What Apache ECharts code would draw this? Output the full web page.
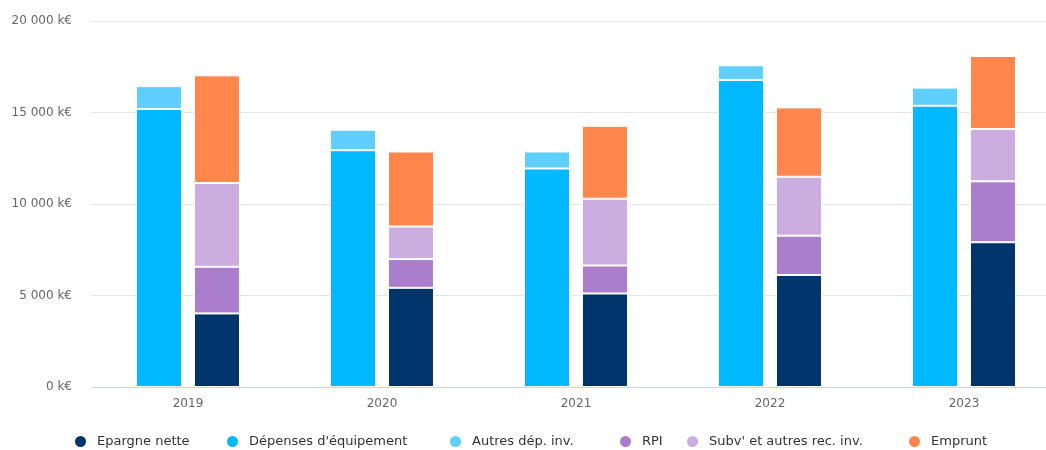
<!DOCTYPE html>
<html>
<head>
<meta charset="utf-8">
<script src="https://cdn.jsdelivr.net/npm/echarts@6/dist/echarts.min.js"></script>
<style>html,body{margin:0;padding:0;background:#fff;overflow:hidden}#c{width:1061px;height:450px}</style>
</head>
<body>
<div id="c"></div>
<script>
const years = ['2019', '2020', '2021', '2022', '2023'];
const epargneNette = [4020, 5420, 5110, 6120, 7910];
const depensesEquipement = [15190, 12940, 11940, 16780, 15370];
const autresDepInv = [1250, 1120, 930, 800, 990];
const rpi = [2550, 1570, 1530, 2150, 3330];
const subvAutres = [4580, 1780, 3650, 3220, 2860];
const emprunt = [5880, 4100, 3980, 3790, 3990];
const yTicks = [0, 5000, 10000, 15000, 20000];

const names = {
  ep: 'Epargne nette', dep: "Dépenses d'équipement", aut: 'Autres dép. inv.',
  rpi: 'RPI', subv: "Subv' et autres rec. inv.", emp: 'Emprunt'
};
const legendOrder = [names.ep, names.dep, names.aut, names.rpi, names.subv, names.emp];
const legendLeft = [73, 225, 448, 618, 685, 907];
const font = 'DejaVu Sans';
function fmt(v){ return String(v).replace(/\B(?=(\d{3})+(?!\d))/g, ' ') + ' k€'; }
function bar(name, data, stack, color){
  return { name, type:'bar', stack, data, barWidth:46, barGap:'26%',
    itemStyle:{ color, borderColor:'#ffffff', borderWidth:1 } };
}
const legends = legendOrder.map((n, i) => ({
  data:[n], left:legendLeft[i], top:434, padding:0, icon:'circle',
  itemWidth:13, itemHeight:13,
  textStyle:{ fontFamily:font, fontSize:13, color:'#333333', padding:[0,0,0,5] }
}));
const chart = echarts.init(document.getElementById('c'), null, {renderer:'canvas'});
chart.setOption({
  animation:false,
  grid:{ left:91, top:21, right:0, bottom:63, containLabel:false },
  legend: legends,
  xAxis:{ type:'category', data:years,
    axisLine:{ lineStyle:{ color:'#ccd6eb' } }, axisTick:{ show:false },
    axisLabel:{ color:'#666666', fontFamily:font, fontSize:12, margin:11 } },
  yAxis:{ type:'value', min:yTicks[0], max:yTicks[yTicks.length-1], interval:5000,
    axisLine:{ show:false }, axisTick:{ show:false },
    splitLine:{ lineStyle:{ color:'#e6e6e6' } },
    axisLabel:{ color:'#666666', fontFamily:font, fontSize:12, margin:19, formatter:fmt } },
  series:[
    bar(names.dep, depensesEquipement, 'dep', '#00b9ff'),
    bar(names.aut, autresDepInv, 'dep', '#5ecfff'),
    bar(names.ep, epargneNette, 'res', '#00356b'),
    bar(names.rpi, rpi, 'res', '#ab7ecd'),
    bar(names.subv, subvAutres, 'res', '#cbade0'),
    bar(names.emp, emprunt, 'res', '#ff874d')
  ]
});
</script>
</body>
</html>
